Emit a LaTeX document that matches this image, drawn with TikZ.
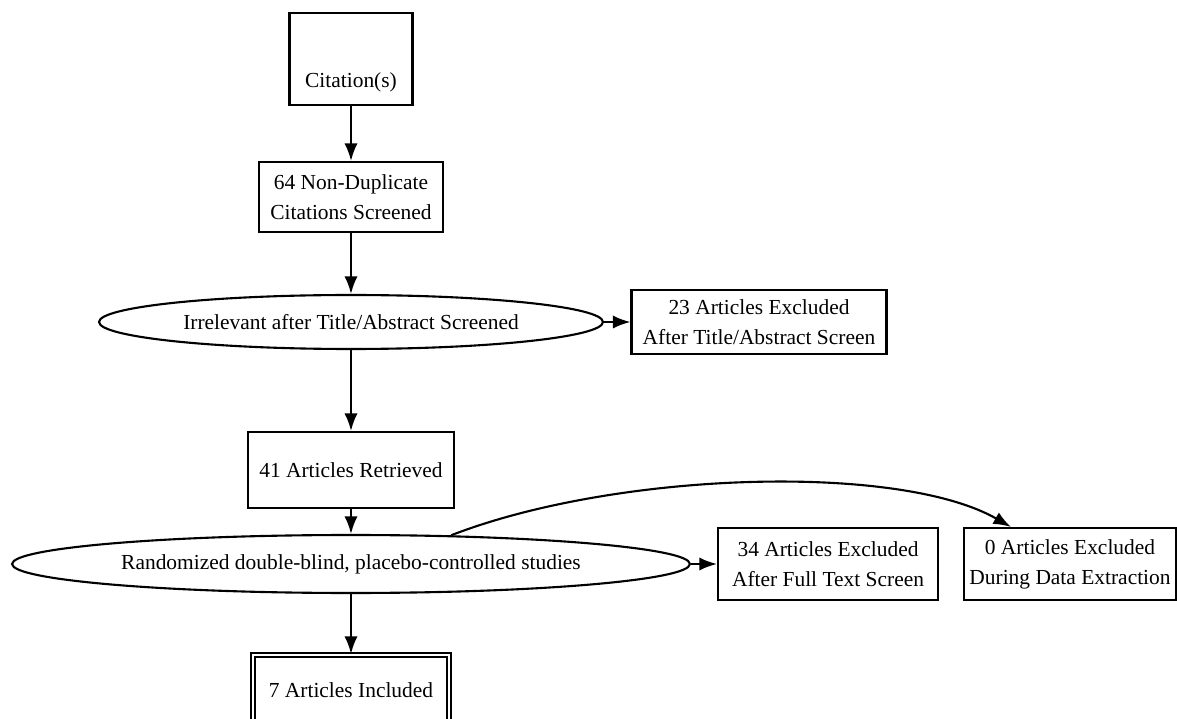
\documentclass[tikz,border=0pt]{standalone}
\usepackage{fontspec}
\setmainfont{Liberation Serif}
\usetikzlibrary{shapes.geometric,arrows.meta,calc}

\begin{document}
\begin{tikzpicture}[x=0.02cm,y=-0.02cm,
  font=\fontsize{12.2}{17}\selectfont,
  stage/.style={draw,line width=1.2pt,rectangle,align=center,inner sep=0pt},
  check/.style={draw,line width=1.2pt,ellipse,inner sep=0pt},
  flow/.style={-{Latex[length=10pt,width=7.5pt]},line width=1.2pt}]

\useasboundingbox (0,0) rectangle (1177,719);

\node [stage,minimum width=2.46cm,text height=1.5cm,text depth=0.34cm] (cit) at (351,59) {Citation(s)};

\node [stage,minimum width=3.68cm,minimum height=1.4cm] (nondup) at (351,197) {64 Non-Duplicate\\Citations Screened};

\node [check,minimum width=10.08cm,minimum height=1.08cm] (irr) at (351,322) {Irrelevant after Title/Abstract Screened};

\node [stage,minimum width=5.1cm,minimum height=1.28cm] (exc1) at (759,322) {23 Articles Excluded\\After Title/Abstract Screen};

\node [stage,minimum width=4.12cm,minimum height=1.52cm] (ret) at (351,470) {41 Articles Retrieved};

\node [check,minimum width=13.56cm,minimum height=1.16cm] (rct) at (351,564) {Randomized double-blind, placebo-controlled studies};

\node [stage,minimum width=4.4cm,minimum height=1.44cm] (exc2) at (828,564) {34 Articles Excluded\\After Full Text Screen};

\node [stage,minimum width=4.24cm,minimum height=1.44cm] (exc3) at (1070,564) {0 Articles Excluded\\During Data Extraction};

\node [stage,double,double distance=0.05cm,minimum width=3.92cm,minimum height=1.4cm] (inc) at (351,690) {7 Articles Included};

\draw [flow] (cit) -- (nondup);
\draw [flow] (nondup) -- (irr);
\draw [flow] (irr) -- (exc1);
\draw [flow] (irr) -- (ret);
\draw [flow] (ret) -- (rct);
\draw [flow] (rct) -- (exc2);
\draw [flow] (rct.16) .. controls (617,471) and (899,463) .. ($(exc3.north west)+(48,0)$);
\draw [flow] (rct) -- (inc);

\end{tikzpicture}
\end{document}
